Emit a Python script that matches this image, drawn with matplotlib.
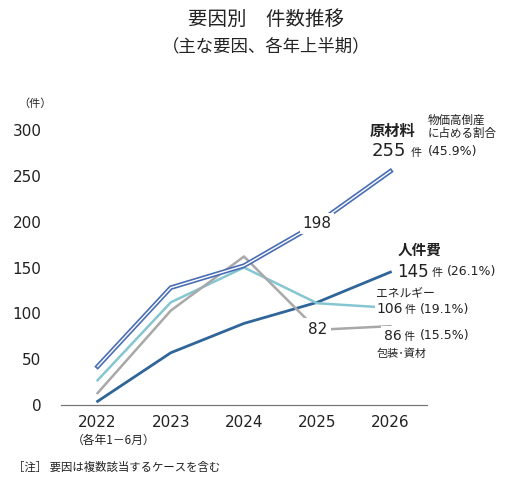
import matplotlib.pyplot as plt

plt.rcParams['font.family'] = ['Noto Sans CJK JP', 'DejaVu Sans']

# データ（各年上半期）
years = ['2022', '2023', '2024', '2025', '2026']
genzairyo = [42, 128, 152, 198, 255]   # 原材料
energy = [27, 112, 150, 111, 106]      # エネルギー
housou = [13, 103, 162, 82, 86]        # 包装・資材
jinkenhi = [4, 57, 89, 112, 145]       # 人件費
yticks = [0, 50, 100, 150, 200, 250, 300]

c_gen = '#4a6db5'
c_ene = '#86c6d3'
c_hou = '#a8a8a8'
c_jin = '#2f6598'
c_txt = '#222222'
num_font = ['DejaVu Sans', 'Noto Sans CJK JP']

W, H = 517, 493
fig = plt.figure(figsize=(W / 100, H / 100), dpi=100)
ax = fig.add_axes([61 / W, 1 - 405 / H, (427 - 61) / W, (405 - 130) / H])

x = list(range(len(years)))

ax.plot(x, jinkenhi, color=c_jin, lw=2.0, zorder=2)
ax.plot(x, energy, color=c_ene, lw=1.8, zorder=2)
ax.plot(x, housou, color=c_hou, lw=1.8, zorder=2)
# 原材料は二重線
ax.plot(x, genzairyo, color=c_gen, lw=3.4, zorder=3)
ax.plot(x, genzairyo, color='white', lw=1.0, zorder=4)

ax.set_xlim(-0.5, 4.5)
ax.set_ylim(0, 300)
ax.set_xticks(x)
ax.set_xticklabels(years, fontsize=11, color=c_txt, family=num_font)
ax.set_yticks(yticks)
ax.set_yticklabels([str(v) for v in yticks], fontsize=11, color=c_txt, family=num_font)
ax.tick_params(length=0, pad=7)
ax.tick_params(axis='y', pad=14)
for s in ['top', 'right', 'left']:
    ax.spines[s].set_visible(False)
ax.spines['bottom'].set_color('#777777')
ax.spines['bottom'].set_linewidth(0.9)

# 途中の数値
ax.text(3, genzairyo[3], '198', fontsize=11, color=c_txt, ha='center', va='center', zorder=5,
        family=num_font, bbox=dict(facecolor='white', edgecolor='none', pad=2))
ax.text(3, housou[3], '82', fontsize=11, color=c_txt, ha='center', va='center', zorder=5,
        family=num_font, bbox=dict(facecolor='white', edgecolor='none', pad=3))


def px(xp, yp):
    return xp / W, 1 - yp / H


def label(xp, yp, s, size, **kw):
    fig.text(*px(xp, yp), s, fontsize=size, ha='left', va='center', color=c_txt, **kw)


# タイトル
fig.text(*px(266, 19), '要因別　件数推移', fontsize=14, ha='center', va='center', color=c_txt)
fig.text(*px(266, 46), '（主な要因、各年上半期）', fontsize=12.5, ha='center', va='center', color=c_txt)
fig.text(*px(35, 104), '（件）', fontsize=8, ha='center', va='center', color=c_txt)

# 系列ラベル
label(370, 131, '原材料', 11, fontweight='bold')
label(372, 151, '255', 13, family=num_font)
label(411, 153, '件', 8)
label(428, 152, '(45.9%)', 9, family=num_font)
label(428, 127, '物価高倒産\nに占める割合', 8.3, linespacing=1.0)

label(398, 250, '人件費', 10.5, fontweight='bold')
label(397, 272, '145', 12, family=num_font)
label(432, 273, '件', 8)
label(447, 272, '(26.1%)', 9, family=num_font)

label(376, 293, 'エネルギー', 8.5)
fig.text(*px(376, 309), '106', fontsize=10, ha='left', va='center', color=c_txt, zorder=5,
         family=num_font, bbox=dict(facecolor='white', edgecolor='none', pad=1))
label(405, 310, '件', 8)
label(420, 309, '(19.1%)', 9, family=num_font)

fig.text(*px(384, 336), '86', fontsize=10, ha='left', va='center', color=c_txt, zorder=5,
         family=num_font, bbox=dict(facecolor='white', edgecolor='none', pad=2))
label(404, 337, '件', 8)
label(420, 336, '(15.5%)', 9, family=num_font)
label(377, 354, '包装･資材', 8)

# 注記
fig.text(*px(114, 440), '（各年1－6月）', fontsize=8.5, ha='center', va='center', color=c_txt)
label(13, 467, '［注］ 要因は複数該当するケースを含む', 8.2)

fig.savefig('out.png', dpi=100)
